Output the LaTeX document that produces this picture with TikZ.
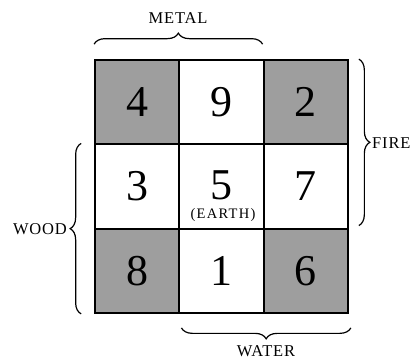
\documentclass[tikz,border=0pt]{standalone}
\usepackage{fontspec}
\setmainfont{Liberation Serif}
\newfontfamily\lblfont[LetterSpace=5]{Liberation Serif}
\newfontfamily\earthfont[LetterSpace=9]{Liberation Serif}
\usetikzlibrary{decorations.pathreplacing}
\begin{document}
\begin{tikzpicture}[x=1pt,y=-1pt,
  cell/.style={draw=black,line width=1.8pt,minimum size=84.3pt,inner sep=0pt,
    font=\fontsize{44}{44}\selectfont},
  shaded/.style={cell,fill=black!38},
  bracelabel/.style={font=\lblfont\fontsize{16.5}{16.5}\selectfont,inner sep=0pt},
  curly/.style={decorate,decoration={brace,amplitude=11pt},line width=1.2pt}]
\useasboundingbox (0,0) rectangle (420,359);
\node[shaded] (n4) at (137.2,102.2) {4};
\node[cell]   (n9) at (221.5,102.2) {9};
\node[shaded] (n2) at (305.8,102.2) {2};
\node[cell]   (n3) at (137.2,186.5) {3};
\node[cell]   (n5) at (221.5,186.5) {};
\node[cell]   (n7) at (305.8,186.5) {7};
\node[shaded] (n8) at (137.2,270.8) {8};
\node[cell]   (n1) at (221.5,270.8) {1};
\node[shaded] (n6) at (305.8,270.8) {6};
\node[font=\fontsize{44}{44}\selectfont,inner sep=0pt] (five) at (221.5,185) {5};
\node[font=\earthfont\fontsize{14.5}{14.5}\selectfont,inner sep=0pt] (earth) at (223,215) {(EARTH)};
% braces
\coordinate (mA) at ([yshift=15pt]n4.north west);
\coordinate (mB) at ([yshift=15pt,xshift=-2pt]n9.north east);
\draw[curly] (mA) -- (mB);
\node[bracelabel] (metal) at (178,18) {METAL};
\coordinate (wA) at ([xshift=-13pt]n8.south west);
\coordinate (wB) at ([xshift=-13pt]n3.north west);
\draw[curly] (wA) -- (wB);
\node[bracelabel,anchor=east] (wood) at (67,229) {WOOD};
\coordinate (fA) at ([xshift=10pt]n2.north east);
\coordinate (fB) at ([xshift=10pt,yshift=4pt]n7.south east);
\draw[curly] (fA) -- (fB);
\node[bracelabel,anchor=west] (fire) at (372,143) {FIRE};
\coordinate (aA) at ([yshift=-14pt,xshift=2pt]n6.south east);
\coordinate (aB) at ([yshift=-14pt,xshift=3pt]n1.south west);
\draw[curly] (aA) -- (aB);
\node[bracelabel] (water) at (266,351) {WATER};
\end{tikzpicture}
\end{document}
